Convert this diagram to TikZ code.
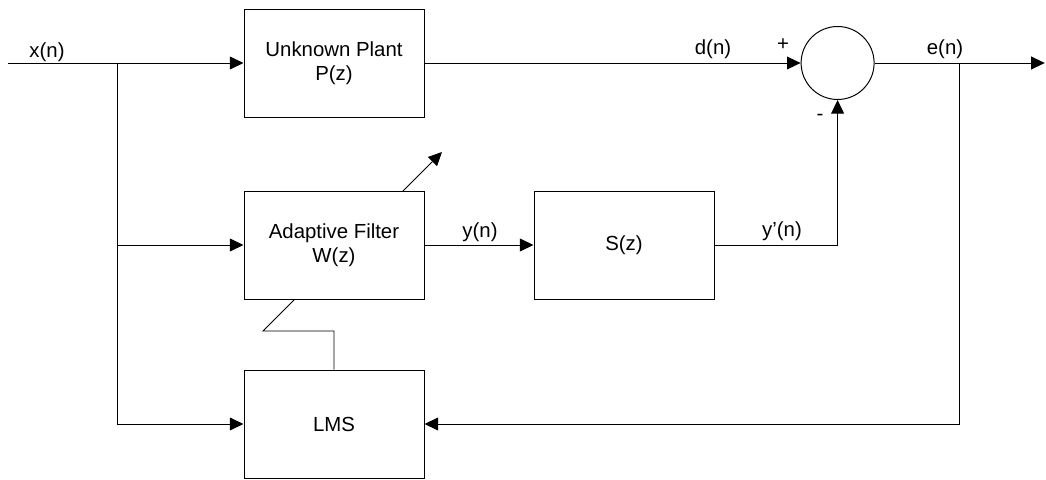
\documentclass[tikz,border=0pt]{standalone}
\usepackage{fontspec}
\setmainfont{Liberation Sans}
\usetikzlibrary{arrows.meta}

\begin{document}
\begin{tikzpicture}[line width=0.7pt,
    >={Triangle[length=0.34cm,width=0.32cm]},
    block/.style={draw,rectangle,fill=white,minimum width=4.5cm,minimum height=2.7cm,align=center,font=\fontsize{14.5}{17}\selectfont},
    lbl/.style={anchor=base,font=\fontsize{14.5}{17}\selectfont}]

    \useasboundingbox (0,0) rectangle (26.15,11.975);

    \coordinate (in) at (0.2,10.4);
    \coordinate (br) at (2.925,10.4);
    \coordinate (eb) at (23.975,10.4);
    \coordinate (out) at (26.12,10.4);
    \coordinate (tune) at (6.575,3.7);
    \coordinate (tunetip) at (11.05,8.175);

    \node[block] (plant) at (8.35,10.4) {Unknown Plant\\P(z)};
    \node[block] (lms) at (8.35,1.375) {LMS};

    % adaptation arrow, goes behind the filter box
    \draw[->] (lms.north) |- (tune) to (tunetip);

    \node[block] (af) at (8.35,5.85) {Adaptive Filter\\W(z)};
    \node[block] (s) at (15.6,5.85) {S(z)};
    \node[draw,circle,minimum size=1.825cm,inner sep=0pt] (sum) at (20.94,10.4) {};

    %\node (lbl0) at (0,0) {};

    \node[lbl] (xn) at (1.175,10.54) {x(n)};
    \node[lbl] (dn) at (17.825,10.6) {d(n)};
    \node[lbl] (plus) at (19.575,10.7) {+};
    \node[lbl] (en) at (23.625,10.6) {e(n)};
    \node[lbl] (minus) at (20.5,8.95) {-};
    \node[lbl] (yn) at (12.0,6.03) {y(n)};
    \node[lbl] (ypn) at (19.55,6.05) {y'(n)};

    \draw[->] (in) to (plant);
    \draw[->] (br |- af) to (af);
    \draw[->] (br) |- (lms);

    \draw[->] (plant) to (sum);
    \draw[->] (sum) to (out);
    \draw[->] (eb) |- (lms);

    \draw[->] (af) to (s);
    \draw[->] (s) -| (sum);

\end{tikzpicture}
\end{document}
